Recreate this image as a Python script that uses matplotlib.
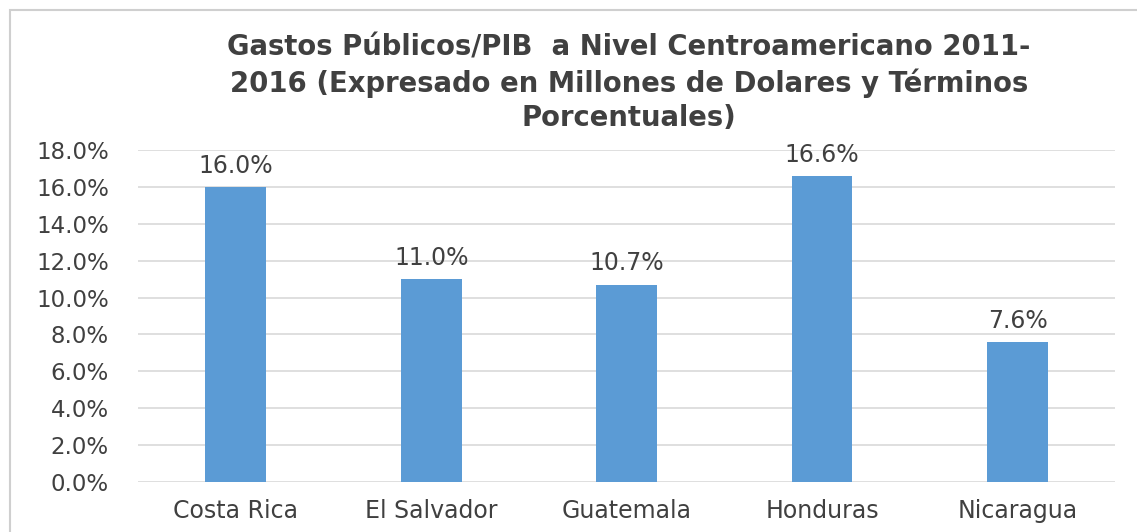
import matplotlib.pyplot as plt
from matplotlib.patches import Rectangle

paises = ['Costa Rica', 'El Salvador', 'Guatemala', 'Honduras', 'Nicaragua']
gasto_pib = [16.0, 11.0, 10.7, 16.6, 7.6]
y_ticks = [0, 2, 4, 6, 8, 10, 12, 14, 16, 18]

titulo = ('Gastos Públicos/PIB  a Nivel Centroamericano 2011-\n'
          '2016 (Expresado en Millones de Dolares y Términos\n'
          'Porcentuales)')

fig = plt.figure(figsize=(11.37, 5.32), dpi=100)
ax = fig.add_axes([0.1214, 0.094, 0.8595, 0.624])

x = range(len(paises))
bars = ax.bar(x, gasto_pib, width=0.31, color='#5B9BD5', zorder=3)

for b, v in zip(bars, gasto_pib):
    ax.text(b.get_x() + b.get_width() / 2, v + 0.5, '{:.1f}%'.format(v),
            ha='center', va='bottom', fontsize=17, color='#404040')

ax.set_xlim(-0.5, len(paises) - 0.5)
ax.set_ylim(0, 18)
ax.set_yticks(y_ticks)
ax.set_yticklabels(['{:.1f}%'.format(t) for t in y_ticks])
ax.set_xticks(list(x))
ax.set_xticklabels(paises)
ax.tick_params(axis='both', length=0, colors='#404040')
ax.tick_params(axis='y', pad=21, labelsize=16.5)
ax.tick_params(axis='x', pad=12, labelsize=17)
ax.grid(axis='y', color='#d9d9d9', linewidth=1.2, zorder=0)
for s in ax.spines.values():
    s.set_visible(False)

fig.text(0.553, 0.937, titulo, ha='center', va='top', fontsize=19.8,
         fontweight='bold', color='#404040', linespacing=1.28)

# marco del grafico
fig.patches.append(Rectangle((10 / 1137, -0.1), 1.1, 1.1 - 10 / 532,
                             transform=fig.transFigure, fill=False,
                             edgecolor='#cfcfcf', linewidth=1.5))

fig.savefig('out.png', dpi=100)
